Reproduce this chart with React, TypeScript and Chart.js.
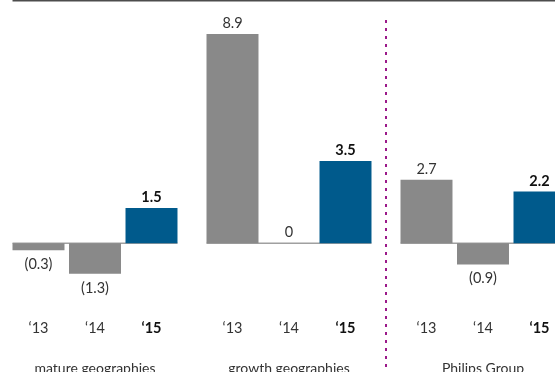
import React, { useEffect, useRef } from "react";
import { Chart, registerables } from "chart.js";

Chart.register(...registerables);

const groups = ["mature geographies", "growth geographies", "Philips Group"];
const years = ["\u201813", "\u201814", "\u201815"];
const values13 = [-0.3, 8.9, 2.7];
const values14 = [-1.3, 0, -0.9];
const values15 = [1.5, 3.5, 2.2];

const GRAY = "#898989";
const BLUE = "#005a8c";
const FONT = "Lato, 'Liberation Sans', sans-serif";

function fmt(v: number): string {
  if (v < 0) return "(" + Math.abs(v).toFixed(1) + ")";
  if (v === 0) return "0";
  return v.toFixed(1);
}

const decorPlugin = {
  id: "decor",
  beforeDatasetsDraw(chart: any) {
    const ctx = chart.ctx;
    const y0 = chart.scales.y.getPixelForValue(0);
    const m0 = chart.getDatasetMeta(0);
    const m2 = chart.getDatasetMeta(2);
    ctx.save();
    // top rule
    const firstLeft = m0.data[0].x - m0.data[0].width / 2;
    ctx.fillStyle = "#4d4d4d";
    ctx.fillRect(firstLeft, 0, chart.width, 1.5);
    // baselines per group
    ctx.strokeStyle = "#a0a0a0";
    ctx.lineWidth = 1.5;
    for (let i = 0; i < groups.length; i++) {
      const l = m0.data[i].x - m0.data[i].width / 2;
      const r = m2.data[i].x + m2.data[i].width / 2;
      ctx.beginPath();
      ctx.moveTo(l, y0);
      ctx.lineTo(r, y0);
      ctx.stroke();
    }
    // dashed separator between growth and Philips group
    const xs = Math.round(
      (m2.data[1].x + m2.data[1].width / 2 + m0.data[2].x - m0.data[2].width / 2) / 2
    );
    ctx.strokeStyle = "#9b1a8a";
    ctx.lineWidth = 2;
    ctx.setLineDash([3, 5]);
    ctx.beginPath();
    ctx.moveTo(xs, 20);
    ctx.lineTo(xs, chart.height);
    ctx.stroke();
    ctx.restore();
  },
  afterDatasetsDraw(chart: any) {
    const ctx = chart.ctx;
    const yS = chart.scales.y;
    const xS = chart.scales.x;
    const y0 = yS.getPixelForValue(0);
    ctx.save();
    ctx.textAlign = "center";
    ctx.textBaseline = "alphabetic";
    chart.data.datasets.forEach((ds: any, di: number) => {
      const meta = chart.getDatasetMeta(di);
      const bold = di === 2;
      meta.data.forEach((bar: any, i: number) => {
        const v = ds.data[i];
        const yv = yS.getPixelForValue(v);
        ctx.font = (bold ? "bold " : "") + "14.5px " + FONT;
        ctx.fillStyle = bold ? "#111" : "#333";
        if (v < 0) {
          ctx.fillText(fmt(v), bar.x, yv + 19);
        } else {
          ctx.fillText(fmt(v), bar.x, Math.min(yv, y0) - 6);
        }
        // year labels
        ctx.fillText(years[di], bar.x, 333);
      });
    });
    ctx.font = "14px " + FONT;
    ctx.fillStyle = "#333";
    groups.forEach((g, i) => {
      ctx.fillText(g, xS.getPixelForValue(i), 373);
    });
    ctx.restore();
  },
};

export default function App() {
  const ref = useRef<HTMLCanvasElement | null>(null);
  useEffect(() => {
    document.body.style.margin = "0";
    document.body.style.overflow = "hidden";
    const canvas = ref.current!;
    const chart = new Chart(canvas, {
      type: "bar",
      data: {
        labels: groups,
        datasets: [
          { label: years[0], data: values13, backgroundColor: GRAY },
          { label: years[1], data: values14, backgroundColor: GRAY },
          { label: years[2], data: values15, backgroundColor: BLUE },
        ],
      },
      options: {
        responsive: false,
        animation: false,
        devicePixelRatio: 1,
        layout: { padding: { top: 20, bottom: 58.25, left: 0, right: 0 } },
        datasets: {
          bar: { categoryPercentage: 0.8737, barPercentage: 0.92, borderWidth: 0 },
        },
        plugins: {
          legend: { display: false },
          tooltip: { enabled: false },
        },
        scales: {
          x: { display: false, offset: true },
          y: { display: false, min: -3, max: 9.5 },
        },
      },
      plugins: [decorPlugin],
    });
    return () => chart.destroy();
  }, []);
  return (
    <div
      style={{
        position: "fixed",
        left: 0,
        top: 0,
        width: 555,
        height: 372,
        overflow: "hidden",
        background: "#fff",
      }}
    >
      <canvas
        ref={ref}
        width={582}
        height={372}
        style={{ position: "absolute", left: -2, top: 0, width: 582, height: 372 }}
      />
    </div>
  );
}
